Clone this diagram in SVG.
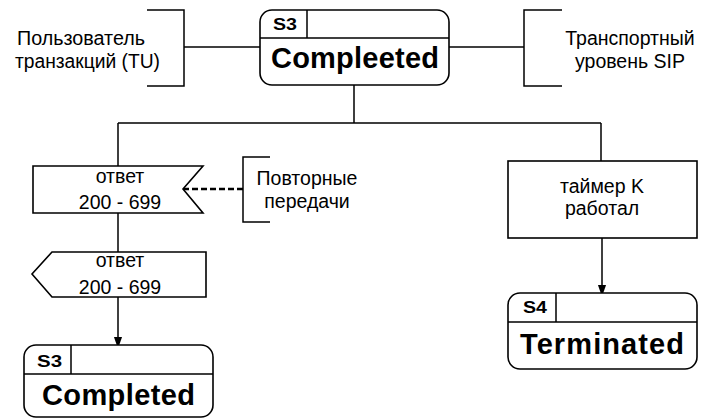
<svg xmlns="http://www.w3.org/2000/svg" width="706" height="418" viewBox="0 0 706 418">
<defs>
<style>
.ln{fill:none;stroke:#000;stroke-width:1.5}
.bx{fill:#fff;stroke:#000;stroke-width:1.6}
.t{font-family:"Liberation Sans",Arial,sans-serif;font-size:19.5px;fill:#000}
.tm{font-family:"Liberation Sans",Arial,sans-serif;font-size:19.5px;fill:#000;text-anchor:middle}
.sid{font-family:"Liberation Sans",Arial,sans-serif;font-size:16px;font-weight:bold;fill:#000}
.big{font-family:"Liberation Sans",Arial,sans-serif;font-size:29px;font-weight:bold;fill:#000}
</style>
<marker id="arr" markerWidth="12" markerHeight="17" refX="12" refY="6" orient="auto" markerUnits="userSpaceOnUse" viewBox="0 0 17 12">
<path d="M0,0 L17,6 L0,12 Z" fill="#000"/>
</marker>
</defs>
<rect width="706" height="418" fill="#fff"/>
<g id="connectors">
<line class="ln" x1="184" y1="47" x2="260" y2="47"/>
<line class="ln" x1="449" y1="47" x2="524" y2="47"/>
<path class="ln" d="M354,85 V123 M118,123 H601 M118,123 V166 M601,123 V161"/>
<line class="ln" x1="118" y1="213" x2="118" y2="252"/>
<line class="ln" x1="118" y1="297" x2="118" y2="345" marker-end="url(#arr)"/>
<line class="ln" x1="602" y1="238" x2="602" y2="293" marker-end="url(#arr)"/>
<line x1="183" y1="189" x2="243" y2="189" stroke="#000" stroke-width="2.5" stroke-dasharray="6,3"/>
</g>
<g id="tu">
<path class="ln" d="M147,10 H184 V86 H147"/>
<text class="t" x="17" y="45" textLength="128" lengthAdjust="spacingAndGlyphs">Пользователь</text>
<text class="t" x="15" y="68" textLength="145" lengthAdjust="spacingAndGlyphs">транзакций (TU)</text>
</g>
<g id="transport">
<path class="ln" d="M562,10 H524 V86 H562"/>
<text class="tm" x="630" y="45">Транспортный</text>
<text class="tm" x="630" y="68">уровень SIP</text>
</g>
<g id="s3-top">
<rect class="bx" x="260" y="10" width="189" height="75" rx="12"/>
<path class="ln" d="M260,38 H449 M307,10 V38"/>
<text class="sid" x="273" y="30" textLength="24" lengthAdjust="spacingAndGlyphs">S3</text>
<text class="big" x="271" y="68" textLength="168" lengthAdjust="spacing">Compleeted</text>
</g>
<g id="recv">
<path class="bx" d="M33,166 H203 L183,189 L203,213 H33 Z"/>
<text class="tm" x="120" y="183">ответ</text>
<text class="tm" x="120" y="209">200 - 699</text>
</g>
<g id="retrans">
<path class="ln" d="M270,157 H243 V222 H270"/>
<text class="tm" x="307" y="185">Повторные</text>
<text class="tm" x="307" y="208">передачи</text>
</g>
<g id="send">
<path class="bx" d="M52,252 H206 V297 H52 L32,274 Z"/>
<text class="tm" x="120" y="267">ответ</text>
<text class="tm" x="120" y="294">200 - 699</text>
</g>
<g id="s3-bottom">
<rect class="bx" x="24" y="345" width="189" height="72" rx="12"/>
<path class="ln" d="M24,374 H213 M71,345 V374"/>
<text class="sid" x="37" y="367" textLength="25" lengthAdjust="spacingAndGlyphs">S3</text>
<text class="big" x="42" y="405" textLength="153" lengthAdjust="spacing">Completed</text>
</g>
<g id="timer">
<rect class="bx" x="508" y="161" width="189" height="77"/>
<text class="tm" x="602" y="193">таймер K</text>
<text class="tm" x="602" y="215">работал</text>
</g>
<g id="s4">
<rect class="bx" x="508" y="293" width="189" height="76" rx="12"/>
<path class="ln" d="M508,322 H697 M556,293 V322"/>
<text class="sid" x="523" y="313" textLength="24" lengthAdjust="spacingAndGlyphs">S4</text>
<text class="big" x="520" y="354" textLength="164" lengthAdjust="spacing">Terminated</text>
</g>
</svg>
